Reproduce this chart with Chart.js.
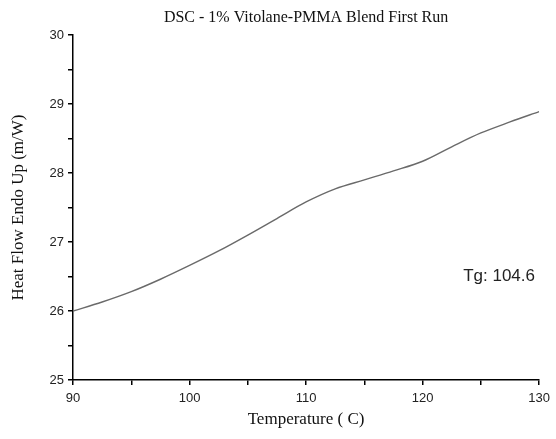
<!DOCTYPE html>
<html>
<head>
<meta charset="utf-8">
<script src="https://cdn.jsdelivr.net/npm/chart.js@4.4.0/dist/chart.umd.min.js"></script>
<style>
  html, body { margin: 0; padding: 0; background: #fff; }
  #wrap { width: 556px; height: 439px; }
</style>
</head>
<body>
<div id="wrap"><canvas id="c" width="556" height="439"></canvas></div>
<script>
// Data
const temperatures = [90, 92.5, 95, 97.5, 100, 102.5, 105, 107.5, 110, 112.5, 115, 117.5, 120, 122.5, 125, 127.5, 130];
const heatFlow     = [26.00, 26.13, 26.28, 26.46, 26.66, 26.87, 27.10, 27.34, 27.58, 27.77, 27.90, 28.03, 28.17, 28.38, 28.58, 28.74, 28.89];
const xTickLabels = [90, 100, 110, 120, 130];
const yTickLabels = [25, 26, 27, 28, 29, 30];
const chartTitle = 'DSC - 1% Vitolane-PMMA Blend First Run';
const xTitle = 'Temperature ( C)';
const yTitle = 'Heat Flow Endo Up (m/W)';
const tgLabel = 'Tg: 104.6';

const points = temperatures.map((t, i) => ({ x: t, y: heatFlow[i] }));

const overlay = {
  id: 'overlay',
  afterDraw(chart) {
    const { ctx, chartArea } = chart;
    ctx.save();
    ctx.fillStyle = '#111';
    ctx.font = '16px "Liberation Serif", "Times New Roman", serif';
    ctx.textAlign = 'center';
    ctx.textBaseline = 'middle';
    ctx.fillText(chartTitle, (chartArea.left + chartArea.right) / 2, 18);
    ctx.font = '17px "Liberation Sans", Arial, sans-serif';
    ctx.textAlign = 'left';
    ctx.fillStyle = '#222';
    ctx.fillText(tgLabel, chartArea.right - 76, chartArea.top + 241);
    ctx.restore();
  }
};

new Chart(document.getElementById('c'), {
  type: 'line',
  data: {
    datasets: [{
      data: points,
      borderColor: '#6a6a6a',
      borderWidth: 1.4,
      pointRadius: 0,
      fill: false,
      tension: 0.3,
      cubicInterpolationMode: 'monotone'
    }]
  },
  options: {
    responsive: false,
    animation: false,
    devicePixelRatio: 1,
    layout: { padding: { top: 35, right: 16, left: 0, bottom: 0 } },
    plugins: { legend: { display: false }, tooltip: { enabled: false }, title: { display: false } },
    scales: {
      x: {
        type: 'linear',
        min: 90, max: 130,
        afterFit(s) { s.height = 59; },
        border: { display: true, color: '#000', width: 1.5 },
        grid: { display: true, drawOnChartArea: false, drawTicks: true, tickLength: 5, color: '#000', lineWidth: 1.5 },
        ticks: {
          stepSize: 5,
          padding: 6,
          color: '#222',
          font: { family: '"Liberation Sans", Arial, sans-serif', size: 13 },
          maxRotation: 0,
          autoSkip: false,
          callback: (v) => xTickLabels.includes(v) ? String(v) : ''
        },
        title: {
          display: true, text: xTitle, color: '#111',
          font: { family: '"Liberation Serif", "Times New Roman", serif', size: 17 },
          padding: { top: 0, bottom: 9 }
        }
      },
      y: {
        min: 25, max: 30,
        afterFit(s) { s.width = 73; },
        border: { display: true, color: '#000', width: 1.5 },
        grid: { display: true, drawOnChartArea: false, drawTicks: true, tickLength: 5, color: '#000', lineWidth: 1.5 },
        ticks: {
          stepSize: 0.5,
          padding: 4,
          color: '#222',
          font: { family: '"Liberation Sans", Arial, sans-serif', size: 13 },
          autoSkip: false,
          callback: (v) => yTickLabels.includes(v) ? String(v) : ''
        },
        title: {
          display: true, text: yTitle, color: '#111',
          font: { family: '"Liberation Serif", "Times New Roman", serif', size: 17 },
          padding: { top: 8, bottom: 0 }
        }
      }
    }
  },
  plugins: [overlay]
});
</script>
</body>
</html>
